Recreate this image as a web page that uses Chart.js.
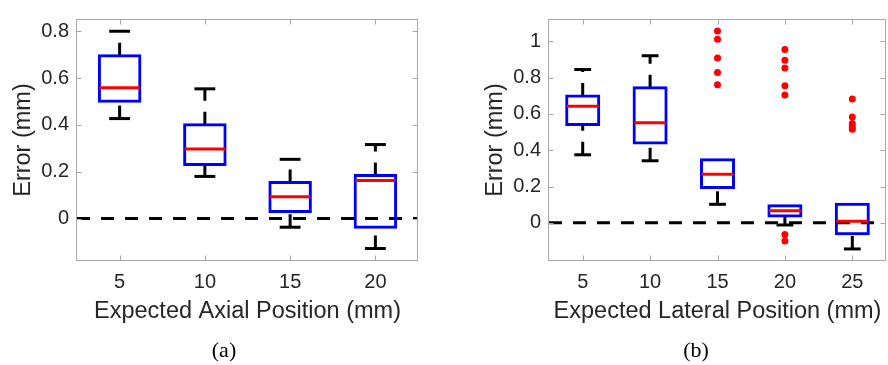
<!DOCTYPE html>
<html>
<head>
<meta charset="utf-8">
<script src="https://cdn.jsdelivr.net/npm/chart.js@4.4.1/dist/chart.umd.min.js"></script>
<style>
  body { margin: 0; background: #fff; width: 888px; height: 365px; overflow: hidden; position: relative; }
  .panel { position: absolute; top: 0; height: 365px; }
  .cap { position: absolute; top: 339px; font: 22px "Liberation Serif", serif; line-height: 22px; color: #000; transform: translateX(-50%); }
</style>
</head>
<body>
<div class="panel" style="left:0;width:444px"><canvas id="chartAxial"></canvas></div>
<div class="panel" style="left:444px;width:446px"><canvas id="chartLateral"></canvas></div>
<div class="cap" style="left:224px">(a)</div>
<div class="cap" style="left:696px">(b)</div>
<script>
// ---- data (mm) ----
var axialPos = ["5", "10", "15", "20"];
var axialLow = [0.427, 0.180, -0.037, -0.128];
var axialQ1 = [0.501, 0.231, 0.030, -0.037];
var axialMed = [0.559, 0.297, 0.093, 0.162];
var axialQ3 = [0.695, 0.401, 0.154, 0.184];
var axialHigh = [0.800, 0.554, 0.253, 0.316];
var axialTicks = [0, 0.2, 0.4, 0.6, 0.8];

var latPos = ["5", "10", "15", "20", "25"];
var latLow = [0.375, 0.342, 0.102, -0.012, -0.144];
var latQ1 = [0.542, 0.440, 0.195, 0.037, -0.060];
var latMed = [0.643, 0.551, 0.268, 0.067, 0.009];
var latQ3 = [0.699, 0.745, 0.347, 0.094, 0.102];
var latHigh = [0.845, 0.921, 0.347, 0.094, 0.102];
var latOut15 = [1.058, 1.012, 0.909, 0.829, 0.761];
var latOut20 = [0.956, 0.896, 0.854, 0.755, 0.704, -0.065, -0.100];
var latOut25 = [0.683, 0.583, 0.548, 0.530, 0.516];
var latTicks = [0, 0.2, 0.4, 0.6, 0.8, 1];

Chart.defaults.font.family = "'Liberation Sans', Arial, sans-serif";
Chart.defaults.color = "#262626";

var axisGrey = "#a8a8a8";

// whiskers, caps, medians, zero line, frame and inward ticks
function boxExtras(low, q1, med, q3, high, tickVals) {
  return {
    id: "boxExtras",
    beforeDatasetsDraw: function (chart) {
      var ctx = chart.ctx, a = chart.chartArea, y = chart.scales.y;
      var bars = chart.getDatasetMeta(0).data;
      ctx.save();
      ctx.beginPath();
      ctx.rect(a.left, a.top, a.right - a.left, a.bottom - a.top);
      ctx.clip();
      ctx.strokeStyle = "#000";
      ctx.lineWidth = 3;
      ctx.lineCap = "butt";
      // dashed zero line
      ctx.setLineDash([13, 11]);
      var y0 = y.getPixelForValue(0);
      ctx.beginPath();
      ctx.moveTo(a.left, y0);
      ctx.lineTo(a.right, y0);
      ctx.stroke();
      bars.forEach(function (bar, i) {
        var cw = (bar.width + 3) * 0.48 / 2;
        // whiskers, drawn from lower to higher value, then caps
        [[low[i], q1[i], low[i]], [q3[i], high[i], high[i]]].forEach(function (w) {
          if (w[0] === w[1]) return;
          ctx.setLineDash([13, 11]);
          ctx.beginPath();
          ctx.moveTo(bar.x, y.getPixelForValue(w[0]));
          ctx.lineTo(bar.x, y.getPixelForValue(w[1]));
          ctx.stroke();
          ctx.setLineDash([]);
          var py = y.getPixelForValue(w[2]);
          ctx.beginPath();
          ctx.moveTo(bar.x - cw, py);
          ctx.lineTo(bar.x + cw, py);
          ctx.stroke();
        });
      });
      ctx.restore();
    },
    afterDatasetsDraw: function (chart) {
      var ctx = chart.ctx, a = chart.chartArea, x = chart.scales.x, y = chart.scales.y;
      var bars = chart.getDatasetMeta(0).data;
      ctx.save();
      ctx.strokeStyle = "#ff0000";
      ctx.lineWidth = 3;
      bars.forEach(function (bar, i) {
        var py = y.getPixelForValue(med[i]);
        ctx.beginPath();
        ctx.moveTo(bar.x - bar.width / 2, py);
        ctx.lineTo(bar.x + bar.width / 2, py);
        ctx.stroke();
      });
      // frame
      ctx.strokeStyle = axisGrey;
      ctx.lineWidth = 1;
      var L = Math.round(a.left) - 0.5, R = Math.round(a.right) - 0.5;
      var T = Math.round(a.top) - 0.5, B = Math.round(a.bottom) + 0.5;
      ctx.strokeRect(L, T, R - L, B - T);
      ctx.beginPath();
      tickVals.forEach(function (v) {
        var py = Math.round(y.getPixelForValue(v)) + 0.5;
        ctx.moveTo(L, py); ctx.lineTo(L + 5, py);
        ctx.moveTo(R, py); ctx.lineTo(R - 5, py);
      });
      bars.forEach(function (bar, i) {
        var px = Math.round(x.getPixelForValue(i)) + 0.5;
        ctx.moveTo(px, T); ctx.lineTo(px, T + 5);
        ctx.moveTo(px, B); ctx.lineTo(px, B - 5);
      });
      ctx.stroke();
      ctx.restore();
    }
  };
}

function makeBoxChart(id, labels, low, q1, med, q3, high, outliers, tickVals, yMin, yMax, xTitle, yAxisWidth, yTitlePad, padRight) {
  var boxes = labels.map(function (l, i) { return [q1[i], q3[i]]; });
  return new Chart(document.getElementById(id), {
    type: "bar",
    data: {
      labels: labels,
      datasets: [
        {
          type: "bar",
          data: boxes,
          backgroundColor: "rgba(0,0,0,0)",
          borderColor: "#0000ff",
          // thin border inflated so the 3px line is centred on the quartiles
          borderWidth: 0.01,
          inflateAmount: 1.5,
          borderSkipped: false,
          barPercentage: 0.475,
          categoryPercentage: 1,
        },
        {
          type: "line",
          data: outliers,
          showLine: false,
          pointRadius: 3.5,
          pointBackgroundColor: "#ff0000",
          pointBorderWidth: 0,
        },
      ],
    },
    options: {
      responsive: true,
      maintainAspectRatio: false,
      animation: false,
      layout: { padding: { left: 0, right: padRight, top: 9, bottom: 35 } },
      plugins: { legend: { display: false }, tooltip: { enabled: false } },
      scales: {
        x: {
          type: "category",
          offset: true,
          grid: { display: false, drawTicks: false },
          border: { display: false },
          ticks: { padding: 10, font: { size: 20 }, maxRotation: 0 },
          title: { display: true, text: xTitle, font: { size: 23.5 }, padding: { top: 0, bottom: 4 } },
          afterFit: function (s) { s.height = 70; },
        },
        y: {
          min: yMin,
          max: yMax,
          grid: { display: false, drawTicks: false },
          border: { display: false },
          ticks: {
            padding: 8,
            font: { size: 20 },
            callback: function (v) { return String(+Number(v).toFixed(1)); },
          },
          afterBuildTicks: function (s) { s.ticks = tickVals.map(function (v) { return { value: v }; }); },
          title: { display: true, text: "Error (mm)", font: { size: 23.5 }, padding: { top: yTitlePad, bottom: 0 } },
          afterFit: function (s) { s.width = yAxisWidth; },
        },
      },
    },
    plugins: [boxExtras(low, q1, med, q3, high, tickVals)],
  });
}

makeBoxChart("chartAxial", axialPos, axialLow, axialQ1, axialMed, axialQ3, axialHigh, [],
  axialTicks, -0.177, 0.848, "Expected Axial Position (mm)", 77, 9, 26);

var latOutliers = []
  .concat(latOut15.map(function (v) { return { x: "15", y: v }; }))
  .concat(latOut20.map(function (v) { return { x: "20", y: v }; }))
  .concat(latOut25.map(function (v) { return { x: "25", y: v }; }));

makeBoxChart("chartLateral", latPos, latLow, latQ1, latMed, latQ3, latHigh, latOutliers,
  latTicks, -0.205, 1.118, "Expected Lateral Position (mm)", 105, 37, 1);
</script>
</body>
</html>
